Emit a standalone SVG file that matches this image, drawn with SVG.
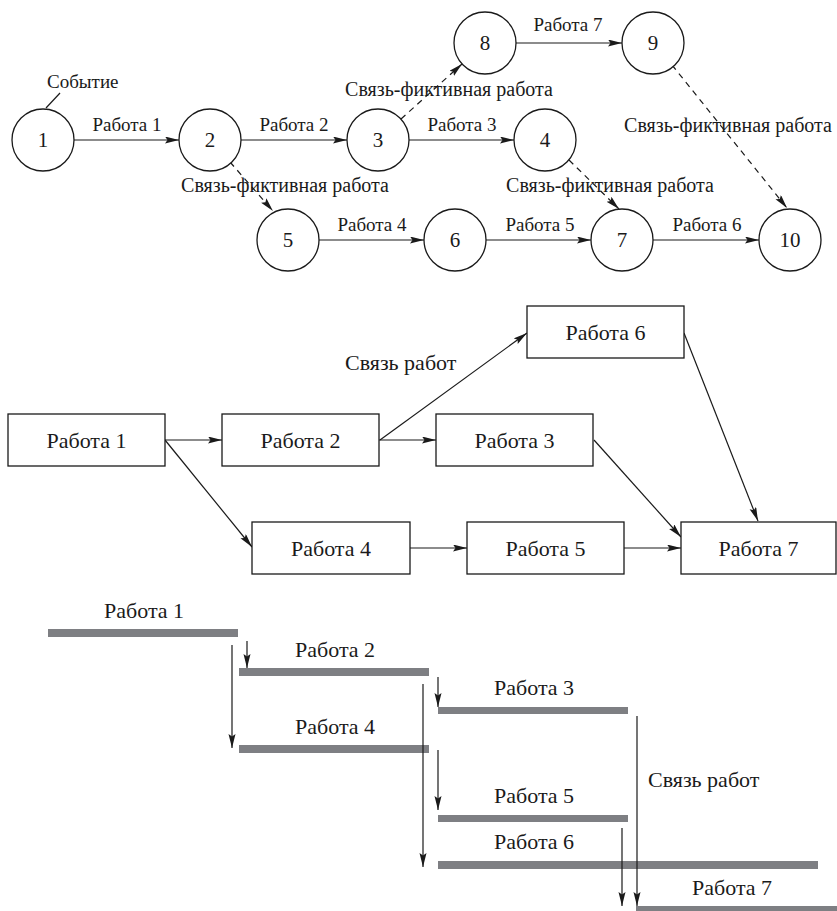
<svg xmlns="http://www.w3.org/2000/svg" width="837" height="911" viewBox="0 0 837 911" font-family="'Liberation Serif', 'Times New Roman', serif">
<style>
text{font-family:'Liberation Serif','Times New Roman',serif;fill:#1a1a1a}
.t{font-size:19px}
.f{font-size:20px;text-anchor:middle}
.n{font-size:21px;text-anchor:middle}
.b{font-size:22px;text-anchor:middle}
.l{font-size:22px}
circle{fill:#fff;stroke:#1a1a1a;stroke-width:1.3}
.box{fill:#fff;stroke:#1a1a1a;stroke-width:1.3}
.c line{stroke:#1a1a1a;stroke-width:1.2}
.s{marker-end:url(#ah)}
.d{stroke-dasharray:6 5}
.bar{fill:#7e7f83;stroke:none}
</style>
<defs>
<marker id="ah" markerWidth="15" markerHeight="8" refX="14" refY="3.5" orient="auto" markerUnits="userSpaceOnUse">
<path d="M0,0 L14,3.5 L0,7 L2.5,3.5 Z" fill="#1a1a1a"/>
</marker>
</defs>
<rect x="0" y="0" width="837" height="911" fill="#fff"/>

<!-- top network -->
<g id="net-edges" class="c">
<line x1="46" y1="108" x2="60" y2="93"/>
<line class="s" x1="74" y1="140" x2="179" y2="140"/>
<line class="s" x1="241" y1="140" x2="347" y2="140"/>
<line class="s" x1="409" y1="140" x2="514" y2="140"/>
<line class="s" x1="516" y1="43" x2="622" y2="43"/>
<line class="s" x1="319" y1="240" x2="424" y2="240"/>
<line class="s" x1="486" y1="240" x2="591" y2="240"/>
<line class="s" x1="653" y1="240" x2="759" y2="240"/>
<line class="s d" x1="230" y1="162" x2="273" y2="211"/>
<line class="s d" x1="401" y1="119" x2="462" y2="64"/>
<line class="s d" x1="569" y1="160" x2="619" y2="209"/>
<line class="s d" x1="672" y1="65" x2="787" y2="208"/>
</g>
<g id="net-labels">
<text class="t" x="47" y="88">Событие</text>
<text class="t" x="127" y="131" text-anchor="middle">Работа 1</text>
<text class="t" x="294" y="131" text-anchor="middle">Работа 2</text>
<text class="t" x="462" y="131" text-anchor="middle">Работа 3</text>
<text class="t" x="568" y="31" text-anchor="middle">Работа 7</text>
<text class="t" x="372" y="231" text-anchor="middle">Работа 4</text>
<text class="t" x="540" y="231" text-anchor="middle">Работа 5</text>
<text class="t" x="707" y="231" text-anchor="middle">Работа 6</text>
<text class="f" x="285" y="192">Связь-фиктивная работа</text>
<text class="f" x="449" y="96">Связь-фиктивная работа</text>
<text class="f" x="728" y="132">Связь-фиктивная работа</text>
<text class="f" x="610" y="192">Связь-фиктивная работа</text>
</g>
<g id="e1"><circle cx="43" cy="140" r="31"/><text class="n" x="43" y="147">1</text></g>
<g id="e2"><circle cx="210" cy="140" r="31"/><text class="n" x="210" y="147">2</text></g>
<g id="e3"><circle cx="378" cy="140" r="31"/><text class="n" x="378" y="147">3</text></g>
<g id="e4"><circle cx="545" cy="140" r="31"/><text class="n" x="545" y="147">4</text></g>
<g id="e5"><circle cx="288" cy="240" r="31"/><text class="n" x="288" y="247">5</text></g>
<g id="e6"><circle cx="455" cy="240" r="31"/><text class="n" x="455" y="247">6</text></g>
<g id="e7"><circle cx="622" cy="240" r="31"/><text class="n" x="622" y="247">7</text></g>
<g id="e8"><circle cx="485" cy="43" r="31"/><text class="n" x="485" y="50">8</text></g>
<g id="e9"><circle cx="653" cy="43" r="31"/><text class="n" x="653" y="50">9</text></g>
<g id="e10"><circle cx="790" cy="240" r="31"/><text class="n" x="790" y="247">10</text></g>

<!-- middle precedence diagram -->
<g id="pd-edges" class="c">
<line class="s" x1="165" y1="440" x2="222" y2="440"/>
<line class="s" x1="379" y1="440" x2="436" y2="440"/>
<line class="s" x1="380" y1="440" x2="527" y2="333"/>
<line class="s" x1="165" y1="440" x2="252" y2="547"/>
<line class="s" x1="410" y1="548" x2="467" y2="548"/>
<line class="s" x1="624" y1="548" x2="681" y2="548"/>
<line class="s" x1="594" y1="440" x2="681" y2="537"/>
<line class="s" x1="684" y1="333" x2="758" y2="521"/>
</g>
<text class="l" x="345" y="370">Связь работ</text>
<g id="w1"><rect class="box" x="8" y="414" width="157" height="52"/><text class="b" x="86.5" y="448">Работа 1</text></g>
<g id="w2"><rect class="box" x="222" y="414" width="157" height="52"/><text class="b" x="300.5" y="448">Работа 2</text></g>
<g id="w3"><rect class="box" x="436" y="414" width="157" height="52"/><text class="b" x="514.5" y="448">Работа 3</text></g>
<g id="w6"><rect class="box" x="527" y="306" width="157" height="52"/><text class="b" x="605.5" y="340">Работа 6</text></g>
<g id="w4"><rect class="box" x="252" y="522" width="158" height="52"/><text class="b" x="331" y="556">Работа 4</text></g>
<g id="w5"><rect class="box" x="467" y="522" width="157" height="52"/><text class="b" x="545.5" y="556">Работа 5</text></g>
<g id="w7"><rect class="box" x="681" y="522" width="155" height="52"/><text class="b" x="758.5" y="556">Работа 7</text></g>

<!-- bottom Gantt -->
<g id="g1"><rect class="bar" x="48" y="629" width="190" height="8"/><text class="l" x="104" y="618">Работа 1</text></g>
<g id="g2"><rect class="bar" x="239" y="668" width="190" height="8"/><text class="l" x="295" y="657">Работа 2</text></g>
<g id="g3"><rect class="bar" x="438" y="707" width="190" height="7"/><text class="l" x="494" y="695">Работа 3</text></g>
<g id="g4"><rect class="bar" x="239" y="745" width="190" height="8"/><text class="l" x="295" y="734">Работа 4</text></g>
<g id="g5"><rect class="bar" x="438" y="815" width="190" height="7"/><text class="l" x="494" y="803">Работа 5</text></g>
<g id="g6"><rect class="bar" x="438" y="861" width="380" height="8"/><text class="l" x="494" y="849">Работа 6</text></g>
<g id="g7"><rect class="bar" x="636" y="906" width="201" height="5"/><text class="l" x="692" y="895">Работа 7</text></g>
<g id="g-links" class="c">
<line class="s" x1="247" y1="641" x2="247" y2="668"/>
<line class="s" x1="232" y1="645" x2="232" y2="748"/>
<line class="s" x1="438" y1="677" x2="438" y2="707"/>
<line class="s" x1="423" y1="684" x2="423" y2="867"/>
<line class="s" x1="438" y1="750" x2="438" y2="810"/>
<line class="s" x1="637" y1="716" x2="637" y2="906"/>
<line class="s" x1="622" y1="828" x2="622" y2="906"/>
</g>
<text class="l" x="648" y="787">Связь работ</text>
</svg>
